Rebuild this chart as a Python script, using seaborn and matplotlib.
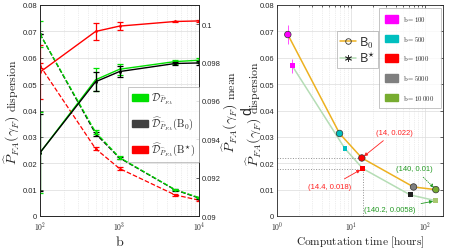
import numpy as np
import pandas as pd
import matplotlib
matplotlib.use("Agg")
import matplotlib.pyplot as plt
import seaborn as sns
from matplotlib.ticker import FuncFormatter, LogLocator, NullFormatter
from matplotlib.patches import Patch
from matplotlib.lines import Line2D

# ---------------- data (left panel) ----------------
b_values = [100, 500, 1000, 5000, 10000]
disp_true = [0.0690, 0.0318, 0.0222, 0.0100, 0.0070]
disp_true_err = [0.0050, 0.0008, 0.0005, 0.0003, 0.0003]
disp_b0 = [0.0690, 0.0312, 0.0220, 0.0099, 0.0068]
disp_b0_err = [0.0000, 0.0007, 0.0004, 0.0003, 0.0003]
disp_bs = [0.0570, 0.0255, 0.0180, 0.0080, 0.0060]
disp_bs_err = [0.0010, 0.0006, 0.0004, 0.0003, 0.0003]

mean_true = [0.0933, 0.0971, 0.09765, 0.09805, 0.09812]
mean_true_err = [0.0021, 0.0006, 0.0003, 0.0001, 0.0001]
mean_b0 = [0.0933, 0.0970, 0.09753, 0.09795, 0.09798]
mean_b0_err = [0.0020, 0.0005, 0.0003, 0.0001, 0.0001]
mean_bs = [0.09750, 0.09962, 0.09990, 0.10014, 0.10017]
mean_bs_err = [0.0014, 0.00045, 0.0002, 0.00005, 0.00004]

# ---------------- data (right panel) ----------------
time_b0 = [1.4, 7.0, 14.0, 70.0, 140.0]
disp_time_b0 = [0.0688, 0.0313, 0.0220, 0.0110, 0.0100]
err_time_b0 = [0.0035, 0.0006, 0.0004, 0.0003, 0.0002]
time_bs = [1.6, 8.3, 14.4, 63.0, 140.2]
disp_time_bs = [0.0570, 0.0255, 0.0180, 0.0080, 0.0058]
err_time_bs = [0.0026, 0.0005, 0.0003, 0.0002, 0.0002]
b_labels = ["b = 100", "b = 500", "b = 1000", "b = 5000", "b = 10 000"]
b_colors = ["#FF00FF", "#00BFBF", "#FF0000", "#7F7F7F", "#77AC30"]
bs_marker_colors = ["#FF00FF", "#00BFBF", "#FF0000", "#202020", "#A8C870"]

# ---------------- style ----------------
sns.set_style("white")
plt.rcParams['font.family'] = ['Liberation Sans', 'DejaVu Sans']
plt.rcParams['mathtext.fontset'] = 'cm'
plt.rcParams['axes.edgecolor'] = '#262626'
plt.rcParams['axes.linewidth'] = 0.6

GREEN = "#00E000"
BLACK = "#000000"
RED = "#FF0000"
TICK_COLOR = '#262626'

W, H = 449, 251
fig = plt.figure(figsize=(W / 100, H / 100), dpi=100)
ax1 = fig.add_axes([40 / W, 34 / H, 159 / W, 211 / H])
ax1r = ax1.twinx()
ax2 = fig.add_axes([277 / W, 34 / H, 166 / W, 211 / H])


def logfmt(v, pos):
    e = int(round(np.log10(v)))
    return r"$\mathsf{10^{%d}}$" % e


def style_axis(ax):
    ax.set_xscale('log')
    ax.tick_params(which='both', direction='in', labelsize=5.5, colors=TICK_COLOR,
                   length=2.5, width=0.5, pad=2)
    ax.tick_params(which='minor', length=1.5)
    ax.xaxis.set_major_formatter(FuncFormatter(logfmt))
    ax.xaxis.set_minor_locator(LogLocator(base=10, subs=np.arange(2, 10)))
    ax.xaxis.set_minor_formatter(NullFormatter())
    ax.grid(True, which='major', color='#DCDCDC', linewidth=0.5)
    ax.grid(True, which='minor', axis='x', color='#DCDCDC', linewidth=0.5, linestyle=':')
    ax.set_axisbelow(True)


# ---------------- left panel ----------------
style_axis(ax1)
ax1r.set_xscale('log')

for y, e, c in [(disp_bs, disp_bs_err, RED), (disp_b0, disp_b0_err, BLACK), (disp_true, disp_true_err, GREEN)]:
    sns.lineplot(x=b_values, y=y, ax=ax1, color=c, linestyle='--', linewidth=0.9,
                 marker='o', markersize=2, markeredgewidth=0, legend=False)
    ax1.errorbar(b_values, y, yerr=e, fmt='none', ecolor=c, elinewidth=0.9, capsize=2.2, capthick=0.9)

for y, e, c in [(mean_true, mean_true_err, GREEN), (mean_b0, mean_b0_err, BLACK), (mean_bs, mean_bs_err, RED)]:
    sns.lineplot(x=b_values, y=y, ax=ax1r, color=c, linestyle='-', linewidth=1.0,
                 marker='o', markersize=2, markeredgewidth=0, legend=False)
    ax1r.errorbar(b_values, y, yerr=e, fmt='none', ecolor=c, elinewidth=0.9, capsize=2.2, capthick=0.9)

ax1.set_xlim(100, 10000)
ax1.set_ylim(0, 0.08)
ax1.set_yticks(np.arange(0, 0.081, 0.01))
ax1.set_yticklabels(['0'] + ['%.2f' % v for v in np.arange(0.01, 0.081, 0.01)])
ax1r.set_ylim(0.09, 0.1010)
ax1r.set_yticks([0.09, 0.092, 0.094, 0.096, 0.098, 0.1])
ax1r.set_yticklabels(['0.09', '0.092', '0.094', '0.096', '0.098', '0.1'])
ax1r.tick_params(which='both', direction='in', labelsize=5.5, colors=TICK_COLOR,
                 length=2.5, width=0.5, pad=2)
ax1r.xaxis.set_major_formatter(FuncFormatter(logfmt))
ax1r.xaxis.set_minor_formatter(NullFormatter())

ax1.set_xlabel(r"$\mathrm{b}$", fontsize=10, labelpad=2)

left_handles = [Patch(facecolor=GREEN, edgecolor=GREEN),
                Patch(facecolor='#404040', edgecolor='#404040'),
                Patch(facecolor=RED, edgecolor=RED)]
left_labels = [r"$\mathcal{D}_{\widehat{P}_{FA}}$",
               r"$\widehat{\mathcal{D}}_{\widehat{P}_{FA}}(\mathrm{B}_0)$",
               r"$\widehat{\mathcal{D}}_{\widehat{P}_{FA}}(\mathrm{B}^{\star})$"]
leg1 = ax1r.legend(left_handles, left_labels, loc='upper left', bbox_to_anchor=(0.553, 0.611),
                   fontsize=7.5, frameon=True, fancybox=False, edgecolor='#AAAAAA',
                   handlelength=1.5, handleheight=0.7, handletextpad=0.3, labelspacing=0.85,
                   borderpad=0.4, borderaxespad=0)
leg1.get_frame().set_linewidth(0.6)

# ---------------- right panel ----------------
style_axis(ax2)
ax2.tick_params(which='both', top=True, right=True)

sns.lineplot(x=time_b0, y=disp_time_b0, ax=ax2, color='#EDB120', linewidth=1.1, legend=False)
sns.lineplot(x=time_bs, y=disp_time_bs, ax=ax2, color='#B5DDB5', linewidth=1.1, legend=False)

for i in range(len(b_labels)):
    ax2.errorbar([time_b0[i]], [disp_time_b0[i]], yerr=[err_time_b0[i]], fmt='none',
                 ecolor=b_colors[i], elinewidth=0.6, capsize=0, alpha=0.8)
    ax2.errorbar([time_bs[i]], [disp_time_bs[i]], yerr=[err_time_bs[i]], fmt='none',
                 ecolor=b_colors[i], elinewidth=0.6, capsize=0, alpha=0.8)

df_b0 = pd.DataFrame({'t': time_b0, 'd': disp_time_b0, 'b': b_labels})
df_bs = pd.DataFrame({'t': time_bs, 'd': disp_time_bs, 'b': b_labels})
sns.scatterplot(data=df_b0, x='t', y='d', hue='b', palette=b_colors, ax=ax2, marker='o',
                s=22, edgecolor='#303030', linewidth=0.5, legend=False, zorder=5)
sns.scatterplot(data=df_bs, x='t', y='d', hue='b', palette=bs_marker_colors, ax=ax2, marker='s',
                s=12, edgecolor='none', linewidth=0, legend=False, zorder=5)

ax2.set_xlim(1, 175)
ax2.set_ylim(0, 0.08)
ax2.set_yticks(np.arange(0, 0.081, 0.01))
ax2.set_yticklabels(['0'] + ['%.2f' % v for v in np.arange(0.01, 0.081, 0.01)])

# reference dotted lines
ax2.plot([1, time_b0[2]], [disp_time_b0[2], disp_time_b0[2]], color='#909090', linestyle=':', linewidth=0.7)
ax2.plot([1, time_bs[2]], [disp_time_bs[2], disp_time_bs[2]], color='#909090', linestyle=':', linewidth=0.7)
ax2.plot([time_bs[2], time_bs[2]], [0, disp_time_bs[2]], color='#909090', linestyle=':', linewidth=0.7)

ann_red = '#FF2020'
ann_green = '#229922'
ax2.annotate("(14, 0.022)", xy=(time_b0[2], disp_time_b0[2]), xytext=(38, 0.0318),
             fontsize=5.5, color=ann_red, ha='center', va='center',
             arrowprops=dict(arrowstyle='-|>', color=ann_red, lw=0.6, mutation_scale=5, shrinkB=2))
ax2.annotate("(14.4, 0.018)", xy=(time_bs[2], disp_time_bs[2]), xytext=(5.2, 0.0110),
             fontsize=5.5, color=ann_red, ha='center', va='center',
             arrowprops=dict(arrowstyle='-|>', color=ann_red, lw=0.6, mutation_scale=5, shrinkB=2))
ax2.annotate("(140, 0.01)", xy=(time_b0[4], disp_time_b0[4]), xytext=(72, 0.0180),
             fontsize=5.5, color=ann_green, ha='center', va='center',
             arrowprops=dict(arrowstyle='-|>', color=ann_green, lw=0.6, mutation_scale=5,
                             linestyle=':', shrinkB=2))
ax2.annotate("(140.2, 0.0058)", xy=(time_bs[4], disp_time_bs[4]), xytext=(33, 0.0024),
             fontsize=5.5, color=ann_green, ha='center', va='center',
             arrowprops=dict(arrowstyle='-|>', color=ann_green, lw=0.6, mutation_scale=5, shrinkB=2))

ax2.set_xlabel(r"$\mathrm{Computation\ time\ [hours]}$", fontsize=8.2, labelpad=1.5)

mk_handles = [Line2D([], [], color='#EDB120', lw=1.1, marker='o', markerfacecolor='none',
                     markeredgecolor='#303030', markersize=4, markeredgewidth=0.6),
              Line2D([], [], color='#B5DDB5', lw=1.1, marker=(6, 2, 0), markeredgecolor='#303030',
                     markersize=5, markeredgewidth=0.6)]
leg2 = ax2.legend(mk_handles, [r"$\mathsf{B}_0$", r"$\mathsf{B}^{\star}$"], loc='upper left',
                  bbox_to_anchor=(0.36, 0.875), fontsize=9, frameon=True, fancybox=False,
                  edgecolor='#AAAAAA', handlelength=1.3, handletextpad=0.2, labelspacing=0.1,
                  borderpad=0.25, borderaxespad=0)
leg2.get_frame().set_linewidth(0.6)
ax2.add_artist(leg2)

b_handles = [Patch(facecolor=c, edgecolor=c) for c in b_colors]
b_leg_labels = [r"$\mathrm{b} = 100$", r"$\mathrm{b} = 500$", r"$\mathrm{b} = 1000$",
                r"$\mathrm{b} = 5000$", r"$\mathrm{b} = 10\;000$"]
leg3 = ax2.legend(b_handles, b_leg_labels, loc='upper right', bbox_to_anchor=(0.985, 0.985),
                  fontsize=4.8, frameon=True, fancybox=False, edgecolor='#AAAAAA',
                  handlelength=2.0, handleheight=1.4, handletextpad=0.8, labelspacing=1.6,
                  borderpad=0.9, borderaxespad=0)
leg3.get_frame().set_linewidth(0.6)

# ---------------- y labels (math part larger than the word, as in the reference) ----------------
renderer = fig.canvas.get_renderer()


def split_ylabel(x_base_px, y_center_px, math, word, math_fs=10.0, word_fs=8.5, gap=4):
    t1 = fig.text(0, 0, math, rotation=90, rotation_mode='anchor', ha='left', va='baseline',
                  fontsize=math_fs, color='#262626')
    t2 = fig.text(0, 0, word, rotation=90, rotation_mode='anchor', ha='left', va='baseline',
                  fontsize=word_fs, color='#262626')
    h1 = t1.get_window_extent(renderer).height
    h2 = t2.get_window_extent(renderer).height
    total = h1 + gap + h2
    y0 = (H - y_center_px) - total / 2
    t1.set_position((x_base_px / W, y0 / H))
    t2.set_position((x_base_px / W, (y0 + h1 + gap) / H))


math_lbl = r"$\widehat{P}_{FA}(\gamma_F)$"
split_ylabel(16.5, 112, math_lbl, r"$\mathrm{dispersion}$")
split_ylabel(234.5, 112, math_lbl, r"$\mathrm{mean}$")
split_ylabel(258.5, 114, math_lbl, r"$\mathrm{dispersion}$")

fig.savefig("out.png", dpi=100)
